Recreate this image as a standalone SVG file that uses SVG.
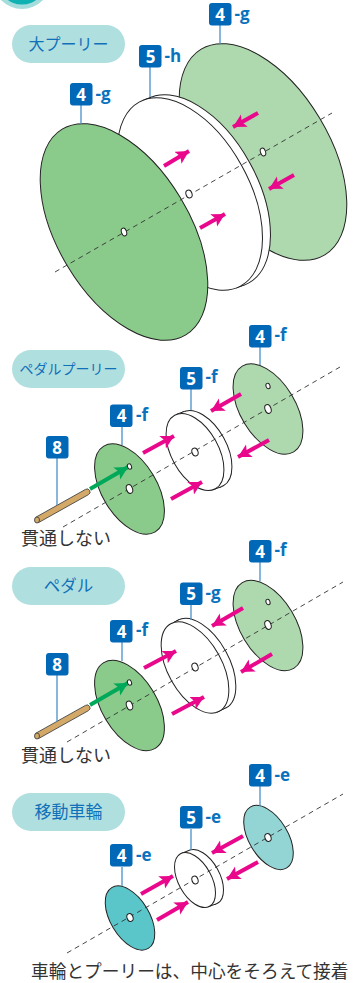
<svg xmlns="http://www.w3.org/2000/svg" width="356" height="983" viewBox="0 0 356 983">
<defs>
<marker id="mp" markerUnits="userSpaceOnUse" markerWidth="15" markerHeight="15" refX="13" refY="7" orient="auto"><path d="M0 0L13 7L0 14L3 7Z" fill="#e9088c"/></marker>
<marker id="mg" markerUnits="userSpaceOnUse" markerWidth="15" markerHeight="15" refX="13" refY="7" orient="auto"><path d="M0 0L13 7L0 14L3 7Z" fill="#00a85a"/></marker>
</defs>
<style>
.d{stroke:#222;stroke-width:1}
.w{fill:#fff}
.h{fill:none;stroke:#222;stroke-width:1}
.g1{fill:#8aca8a}
.g2{fill:#aed8ae}
.t1{fill:#5bc6c9}
.t2{fill:#93d4d4}
.ax{stroke:#333;stroke-width:.9;stroke-dasharray:5 4;fill:none}
.pk{stroke:#e9088c;stroke-width:4;fill:none;marker-end:url(#mp)}
.gr{stroke:#00a85a;stroke-width:4;fill:none;marker-end:url(#mg)}
.ld{stroke:#4a90c8;stroke-width:1.3}
.sq{fill:#0068b7}
.n{font:700 17px "Open Sans","Liberation Sans",sans-serif;fill:#fff;text-anchor:middle}
.s{font:700 17px "Open Sans","Liberation Sans",sans-serif;fill:#0a72bd}
.pill{fill:#b0dfe0}
.pt{font-family:"Noto Sans CJK JP",sans-serif;fill:#1070b8;text-anchor:middle}
.j{font-family:"Noto Sans CJK JP",sans-serif;fill:#333}
.rod{fill:#d4a968;stroke:#444;stroke-width:.9}
</style>

<circle cx="22" cy="-20" r="29" fill="#a5dcdc"/>
<circle cx="22" cy="-20" r="24.500" fill="#10b1b3"/>

<g id="pill1"><rect class="pill" x="12" y="25" width="113" height="38" rx="19"/><text class="pt" x="68.5" y="50" font-size="16">大プーリー</text></g>
<g id="pill2"><rect class="pill" x="12" y="350" width="113" height="38" rx="19"/><text class="pt" x="68.5" y="374" font-size="14">ペダルプーリー</text></g>
<g id="pill3"><rect class="pill" x="12" y="567" width="113" height="38" rx="19"/><text class="pt" x="68.5" y="592" font-size="16.5">ペダル</text></g>
<g id="pill4"><rect class="pill" x="12" y="793" width="113" height="38" rx="19"/><text class="pt" x="68.5" y="818" font-size="17">移動車輪</text></g>

<g id="large-back"><ellipse class="d g2" rx="120" ry="66" transform="translate(263 152) rotate(59)"/></g>
<g id="large-pulley"><ellipse class="d w" rx="105" ry="59" transform="translate(198 191) rotate(61)"/><path class="w" d="M143.500 100.100L151.500 97.100L244.500 284.900L236.500 287.900Z"/><path class="h" d="M143.500 100.100L151.500 97.100M236.500 287.900L244.500 284.900"/><ellipse class="d w" rx="105" ry="59" transform="translate(190 194) rotate(61)"/></g>
<g id="large-front"><ellipse class="d g1" rx="120" ry="66" transform="translate(124 232) rotate(59)"/></g>

<g id="pedalpulley-back"><ellipse class="d g2" rx="50" ry="27.5" transform="translate(268 409) rotate(59)"/></g>
<g id="pedalpulley-pulley"><ellipse class="d w" rx="42" ry="23.5" transform="translate(203 449) rotate(61)"/><path class="w" d="M176.400 414.400L184.400 411.400L221.600 486.600L213.600 489.600Z"/><path class="h" d="M176.400 414.400L184.400 411.400M213.600 489.600L221.600 486.600"/><ellipse class="d w" rx="42" ry="23.5" transform="translate(195 452) rotate(61)"/></g>
<g id="pedalpulley-front"><ellipse class="d g1" rx="50" ry="27.5" transform="translate(129.5 489) rotate(59)"/></g>

<g id="pedal-back"><ellipse class="d g2" rx="50" ry="27.5" transform="translate(268 625.500) rotate(59)"/></g>
<g id="pedal-pulley"><ellipse class="d w" rx="50" ry="27" transform="translate(202 664) rotate(61)"/><path class="w" d="M172.900 622.800L179.900 619.300L224.100 708.700L217.100 712.200Z"/><path class="h" d="M172.900 622.800L179.900 619.300M217.100 712.200L224.100 708.700"/><ellipse class="d w" rx="50" ry="27" transform="translate(195 667.500) rotate(61)"/></g>
<g id="pedal-front"><ellipse class="d g1" rx="50" ry="27.5" transform="translate(129.5 705.5) rotate(59)"/></g>

<g id="wheel-back"><ellipse class="d t2" rx="35.500" ry="19.5" transform="translate(268.500 837.500) rotate(59)"/></g>
<g id="wheel-pulley"><ellipse class="d w" rx="30" ry="16.5" transform="translate(203 877) rotate(61)"/><path class="w" d="M181.700 853.200L189.700 850.200L216.300 903.800L208.300 906.800Z"/><path class="h" d="M181.700 853.200L189.700 850.200M208.300 906.800L216.300 903.800"/><ellipse class="d w" rx="30" ry="16.5" transform="translate(195 880) rotate(61)"/></g>
<g id="wheel-front"><ellipse class="d t1" rx="35.500" ry="19.5" transform="translate(130 918) rotate(59)"/></g>

<g id="rod1"><path class="rod" d="M35.500 517.400L85.500 489.400A3 3 0 0 1 88.500 494.600L38.500 522.600Z"/><ellipse class="rod" cx="37" cy="520" rx="2.500" ry="3"/></g>
<g id="rod2"><path class="rod" d="M35.500 733.400L85.500 705.400A3 3 0 0 1 88.500 710.600L38.500 738.600Z"/><ellipse class="rod" cx="37" cy="736" rx="2.500" ry="3"/></g>

<g id="connectors">
<line class="ax" x1="55" y1="272" x2="332" y2="113"/>
<line class="ax" x1="63" y1="527" x2="340" y2="367"/>
<line class="ax" x1="67" y1="742" x2="343" y2="582"/>
<line class="ax" x1="67" y1="953" x2="343" y2="794"/>
<line class="pk" x1="258" y1="113" x2="233" y2="127"/>
<line class="pk" x1="294" y1="175" x2="269" y2="189"/>
<line class="pk" x1="164" y1="166" x2="189" y2="151"/>
<line class="pk" x1="200" y1="228" x2="225" y2="214"/>
<line class="pk" x1="241" y1="394" x2="211" y2="411"/>
<line class="pk" x1="269" y1="440" x2="238" y2="457"/>
<line class="pk" x1="143" y1="453" x2="174" y2="436"/>
<line class="pk" x1="171" y1="499" x2="202" y2="482"/>
<line class="gr" x1="90" y1="489" x2="128" y2="467"/>
<line class="pk" x1="243" y1="608" x2="212" y2="626"/>
<line class="pk" x1="272" y1="654" x2="241" y2="672"/>
<line class="pk" x1="144" y1="668" x2="176" y2="651"/>
<line class="pk" x1="172" y1="714" x2="204" y2="697"/>
<line class="gr" x1="90" y1="705" x2="128" y2="683"/>
<line class="pk" x1="243" y1="836" x2="212" y2="853"/>
<line class="pk" x1="258" y1="862" x2="227" y2="879"/>
<line class="pk" x1="141" y1="894" x2="173" y2="876"/>
<line class="pk" x1="157" y1="920" x2="188" y2="902"/>
<line class="ld" x1="220" y1="25" x2="220" y2="44"/>
<line class="ld" x1="150" y1="67" x2="150" y2="97"/>
<line class="ld" x1="81" y1="105" x2="81" y2="124"/>
<line class="ld" x1="260" y1="347" x2="260" y2="365"/>
<line class="ld" x1="191" y1="389" x2="191" y2="410"/>
<line class="ld" x1="122" y1="427" x2="122" y2="445"/>
<line class="ld" x1="57" y1="458" x2="57" y2="505"/>
<line class="ld" x1="260" y1="562" x2="260" y2="581"/>
<line class="ld" x1="191" y1="605" x2="191" y2="620"/>
<line class="ld" x1="122" y1="642" x2="122" y2="661"/>
<line class="ld" x1="57" y1="675" x2="57" y2="722"/>
<line class="ld" x1="260" y1="786" x2="260" y2="806"/>
<line class="ld" x1="191" y1="829" x2="191" y2="850"/>
<line class="ld" x1="122" y1="867" x2="122" y2="886"/>
</g>

<g id="holes" class="d w">
<ellipse cx="124" cy="232" rx="2.500" ry="4" transform="rotate(-20 124 232)"/>
<ellipse cx="189" cy="194" rx="3" ry="4" transform="rotate(-20 189 194)"/>
<ellipse cx="263" cy="152" rx="2.500" ry="4" transform="rotate(-20 263 152)"/>
<ellipse cx="268" cy="409" rx="3" ry="4.500" transform="rotate(-20 268 409)"/>
<ellipse cx="268" cy="386" rx="2" ry="2.800" transform="rotate(-20 268 386)"/>
<ellipse cx="195" cy="452" rx="3" ry="4" transform="rotate(-20 195 452)"/>
<ellipse cx="129.500" cy="489" rx="3" ry="4.500" transform="rotate(-20 129.500 489)"/>
<ellipse cx="129.500" cy="466.500" rx="2" ry="2.800" transform="rotate(-20 129.500 466.500)"/>
<ellipse cx="268" cy="625" rx="3" ry="4.500" transform="rotate(-20 268 625)"/>
<ellipse cx="268" cy="602" rx="2" ry="2.800" transform="rotate(-20 268 602)"/>
<ellipse cx="195" cy="667" rx="3" ry="4" transform="rotate(-20 195 667)"/>
<ellipse cx="129.500" cy="705.500" rx="3" ry="4.500" transform="rotate(-20 129.500 705.500)"/>
<ellipse cx="129.500" cy="682.500" rx="2" ry="2.800" transform="rotate(-20 129.500 682.500)"/>
<ellipse cx="268" cy="837.500" rx="3" ry="4" transform="rotate(-20 268 837.500)"/>
<ellipse cx="195" cy="880" rx="3" ry="4" transform="rotate(-20 195 880)"/>
<ellipse cx="130" cy="917.500" rx="3" ry="4" transform="rotate(-20 130 917.500)"/>
</g>

<g id="label-4g-back"><rect class="sq" x="209" y="3" width="22.500" height="22.500" rx="3"/><text class="n" x="220" y="20.500">4</text><text class="s" x="234.500" y="20">-g</text></g>
<g id="label-5h"><rect class="sq" x="139" y="45" width="22.500" height="22.500" rx="3"/><text class="n" x="150.500" y="62.500">5</text><text class="s" x="164.500" y="62">-h</text></g>
<g id="label-4g-front"><rect class="sq" x="70" y="83" width="22.500" height="22.500" rx="3"/><text class="n" x="81" y="100.500">4</text><text class="s" x="95.500" y="100">-g</text></g>
<g id="label-4f-a"><rect class="sq" x="249" y="325" width="22.500" height="22.500" rx="3"/><text class="n" x="260" y="342.500">4</text><text class="s" x="274.500" y="341">-f</text></g>
<g id="label-5f"><rect class="sq" x="180" y="367" width="22.500" height="22.500" rx="3"/><text class="n" x="191" y="384.500">5</text><text class="s" x="205.500" y="383">-f</text></g>
<g id="label-4f-b"><rect class="sq" x="110" y="404.500" width="22.500" height="22.500" rx="3"/><text class="n" x="121.500" y="422">4</text><text class="s" x="136" y="421">-f</text></g>
<g id="label-8a"><rect class="sq" x="46" y="436" width="22.500" height="22.500" rx="3"/><text class="n" x="57" y="453.500">8</text></g>
<g id="label-4f-c"><rect class="sq" x="249" y="540" width="22.500" height="22.500" rx="3"/><text class="n" x="260" y="557.500">4</text><text class="s" x="274.500" y="556">-f</text></g>
<g id="label-5g"><rect class="sq" x="180" y="582.500" width="22.500" height="22.500" rx="3"/><text class="n" x="191" y="600">5</text><text class="s" x="205.500" y="599">-g</text></g>
<g id="label-4f-d"><rect class="sq" x="110" y="620" width="22.500" height="22.500" rx="3"/><text class="n" x="121.500" y="637.500">4</text><text class="s" x="136" y="636">-f</text></g>
<g id="label-8b"><rect class="sq" x="46" y="653" width="22.500" height="22.500" rx="3"/><text class="n" x="57" y="670.500">8</text></g>
<g id="label-4e-a"><rect class="sq" x="249" y="764" width="22.500" height="22.500" rx="3"/><text class="n" x="260" y="781.500">4</text><text class="s" x="274.500" y="781">-e</text></g>
<g id="label-5e"><rect class="sq" x="180" y="806" width="22.500" height="22.500" rx="3"/><text class="n" x="191" y="823.500">5</text><text class="s" x="205.500" y="823">-e</text></g>
<g id="label-4e-b"><rect class="sq" x="110" y="844" width="22.500" height="22.500" rx="3"/><text class="n" x="121.500" y="861.500">4</text><text class="s" x="136" y="861">-e</text></g>

<text class="j" x="21" y="545" font-size="18">貫通しない</text>
<text class="j" x="21" y="762" font-size="18">貫通しない</text>
<text class="j" x="31" y="978" font-size="17.700">車輪とプーリーは、中心をそろえて接着</text>
</svg>
